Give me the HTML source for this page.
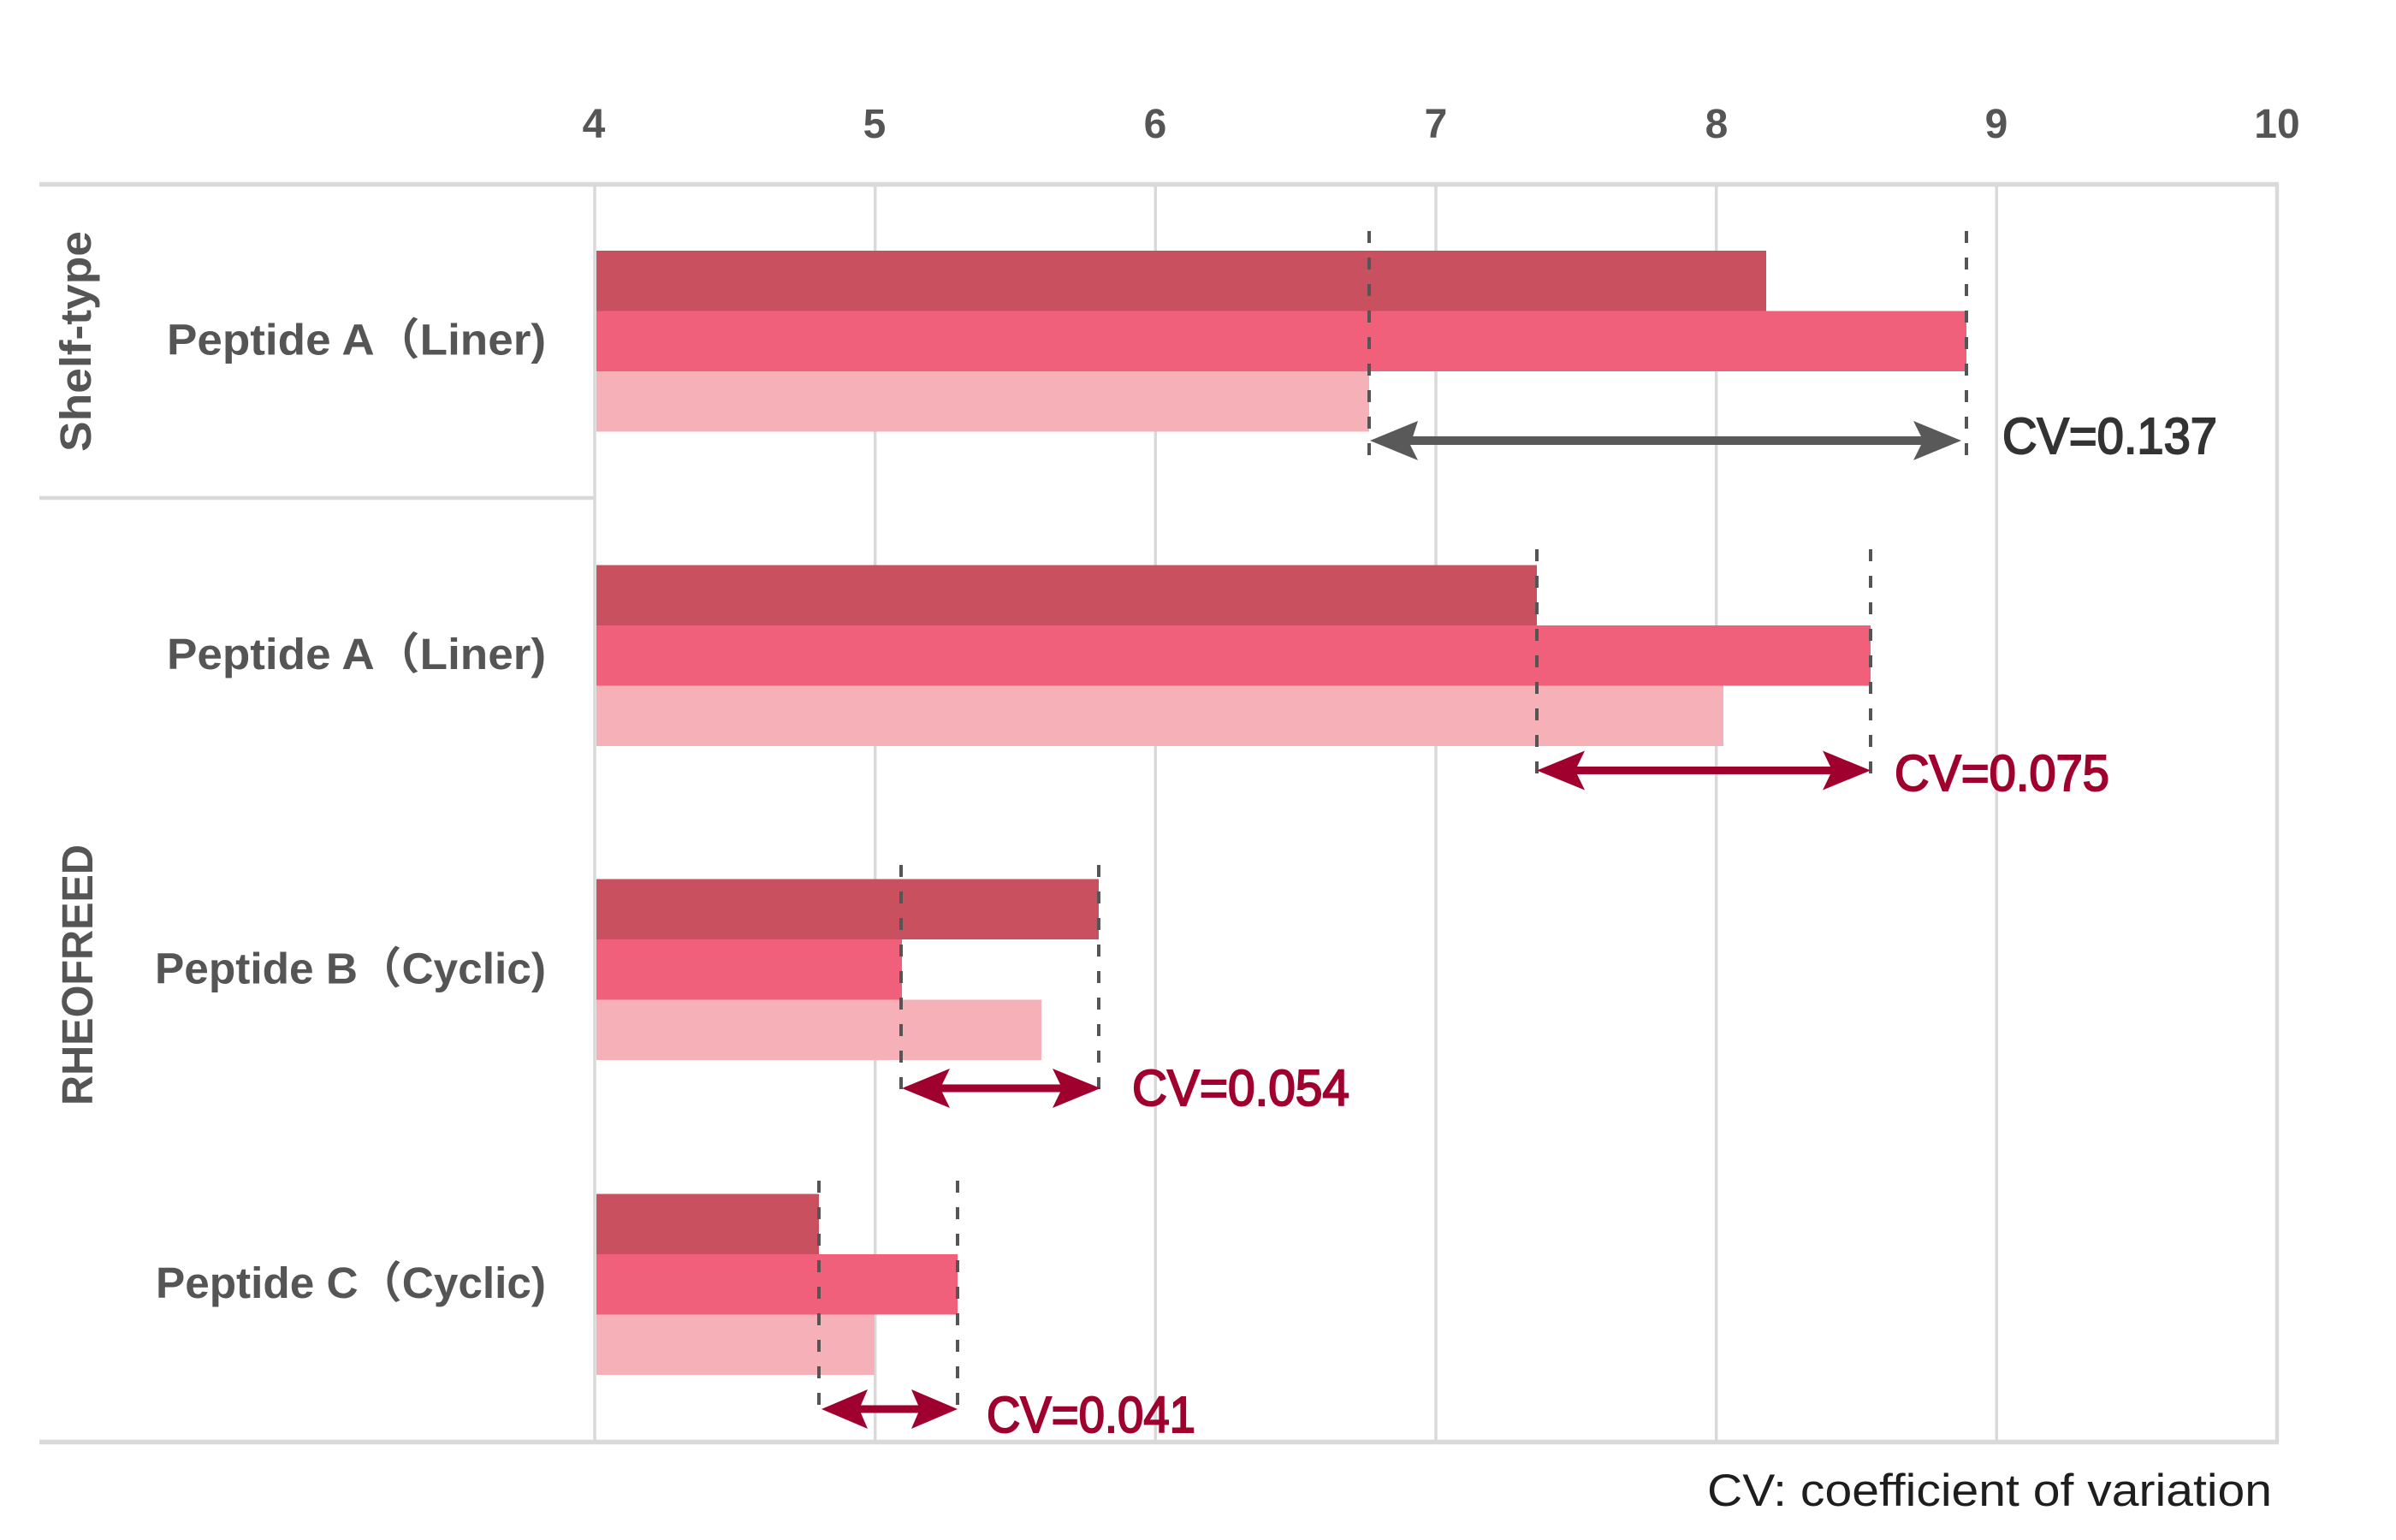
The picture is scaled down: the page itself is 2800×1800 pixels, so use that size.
<!DOCTYPE html>
<html>
<head>
<meta charset="utf-8">
<style>
html,body{margin:0;padding:0;background:#fff;}
svg{display:block;}
</style>
</head>
<body>
<svg width="2800" height="1800" viewBox="0 0 2800 1800" xmlns="http://www.w3.org/2000/svg">
<rect width="2800" height="1800" fill="#ffffff"/>

<!-- vertical gridlines -->
<g stroke="#d9d9d9" stroke-width="3.5">
<line x1="695" y1="215" x2="695" y2="1686"/>
<line x1="1022.7" y1="215" x2="1022.7" y2="1686"/>
<line x1="1350.3" y1="215" x2="1350.3" y2="1686"/>
<line x1="1678" y1="215" x2="1678" y2="1686"/>
<line x1="2005.7" y1="215" x2="2005.7" y2="1686"/>
<line x1="2333.3" y1="215" x2="2333.3" y2="1686"/>
<line x1="2661" y1="215" x2="2661" y2="1686" stroke-width="4.5"/>
</g>
<!-- horizontal lines -->
<g stroke="#d9d9d9">
<line x1="46" y1="215.5" x2="2663" y2="215.5" stroke-width="5.5"/>
<line x1="46" y1="1685.5" x2="2663" y2="1685.5" stroke-width="5.5"/>
<line x1="46" y1="582" x2="695" y2="582" stroke-width="4.5"/>
</g>

<!-- tick labels -->
<g font-family="Liberation Sans, sans-serif" font-weight="bold" font-size="48" fill="#555555" text-anchor="middle">
<text x="694" y="161">4</text>
<text x="1022" y="161">5</text>
<text x="1350" y="161">6</text>
<text x="1678" y="161">7</text>
<text x="2006" y="161">8</text>
<text x="2333" y="161">9</text>
<text x="2661" y="161">10</text>
</g>

<!-- bars -->
<g>
<rect x="697" y="293" width="1367" height="70.5" fill="#c8505f"/>
<rect x="697" y="363.5" width="1601" height="70.5" fill="#f0607a"/>
<rect x="697" y="434" width="903" height="70.5" fill="#f6b0b8"/>

<rect x="697" y="660.5" width="1099" height="70.5" fill="#c8505f"/>
<rect x="697" y="731" width="1489" height="70.5" fill="#f0607a"/>
<rect x="697" y="801.5" width="1317" height="70.5" fill="#f6b0b8"/>

<rect x="697" y="1027.5" width="587" height="70.5" fill="#c8505f"/>
<rect x="697" y="1098" width="357" height="70.5" fill="#f0607a"/>
<rect x="697" y="1168.5" width="520" height="70.5" fill="#f6b0b8"/>

<rect x="697" y="1395.5" width="260" height="70.5" fill="#c8505f"/>
<rect x="697" y="1466" width="422" height="70.5" fill="#f0607a"/>
<rect x="697" y="1536.5" width="325" height="70.5" fill="#f6b0b8"/>
</g>

<!-- dashed lines -->
<g stroke="#555555" stroke-width="4" stroke-dasharray="14 17">
<line x1="1600" y1="270" x2="1600" y2="532"/>
<line x1="2298" y1="270" x2="2298" y2="532"/>
<line x1="1796" y1="642" x2="1796" y2="905"/>
<line x1="2186" y1="642" x2="2186" y2="905"/>
<line x1="1053" y1="1011" x2="1053" y2="1278"/>
<line x1="1284" y1="1011" x2="1284" y2="1278"/>
<line x1="957" y1="1380" x2="957" y2="1645"/>
<line x1="1119" y1="1380" x2="1119" y2="1645"/>
</g>

<!-- arrows -->
<polygon fill="#595959" points="1601,515 1657,492 1648,520 1648,510 2245,510 2236,492 2292,515 2236,538 2245,520 1648,520 1657,538"/>
<polygon fill="#a0002d" points="1796,900.5 1852,877.5 1843,896 2139,896 2130,877.5 2186,900.5 2130,923.5 2139,905 1843,905 1852,923.5"/>
<polygon fill="#a0002d" points="1054,1272 1110,1249 1101,1267.5 1239,1267.5 1230,1249 1286,1272 1230,1295 1239,1276.5 1101,1276.5 1110,1295"/>
<polygon fill="#a0002d" points="960,1647 1014,1624 1006,1642.5 1073,1642.5 1065,1624 1119,1647 1065,1670 1073,1651.5 1006,1651.5 1014,1670"/>

<!-- CV labels -->
<g font-family="Liberation Sans, sans-serif" font-size="59" stroke-width="2">
<text x="2340" y="530" fill="#333333" stroke="#333333" textLength="251" lengthAdjust="spacingAndGlyphs">CV=0.137</text>
<text x="2214" y="924" fill="#a0002d" stroke="#a0002d" textLength="251" lengthAdjust="spacingAndGlyphs">CV=0.075</text>
<text x="1323" y="1292" fill="#a0002d" stroke="#a0002d" textLength="254" lengthAdjust="spacingAndGlyphs">CV=0.054</text>
<text x="1153" y="1674" fill="#a0002d" stroke="#a0002d" textLength="244" lengthAdjust="spacingAndGlyphs">CV=0.041</text>
</g>

<!-- category labels -->
<g font-family="Liberation Sans, 'Noto Sans CJK JP', sans-serif" font-weight="bold" font-size="51" fill="#555555">
<text x="195" y="414.5" textLength="443" lengthAdjust="spacingAndGlyphs">Peptide A（Liner)</text>
<text x="195" y="782" textLength="443" lengthAdjust="spacingAndGlyphs">Peptide A（Liner)</text>
<text x="181" y="1149.5" textLength="457" lengthAdjust="spacingAndGlyphs">Peptide B（Cyclic)</text>
<text x="182" y="1517" textLength="456" lengthAdjust="spacingAndGlyphs">Peptide C（Cyclic)</text>
</g>

<!-- group labels (rotated) -->
<g font-family="Liberation Sans, sans-serif" font-weight="bold" font-size="51" fill="#555555">
<text transform="translate(106,528) rotate(-90)" textLength="258" lengthAdjust="spacingAndGlyphs">Shelf-type</text>
<text transform="translate(108,1292) rotate(-90)" textLength="305" lengthAdjust="spacingAndGlyphs">RHEOFREED</text>
</g>

<!-- footnote -->
<text x="1995" y="1760" font-family="Liberation Sans, sans-serif" font-size="53" fill="#1e1e1e" textLength="660" lengthAdjust="spacingAndGlyphs">CV: coefficient of variation</text>
</svg>
</body>
</html>
